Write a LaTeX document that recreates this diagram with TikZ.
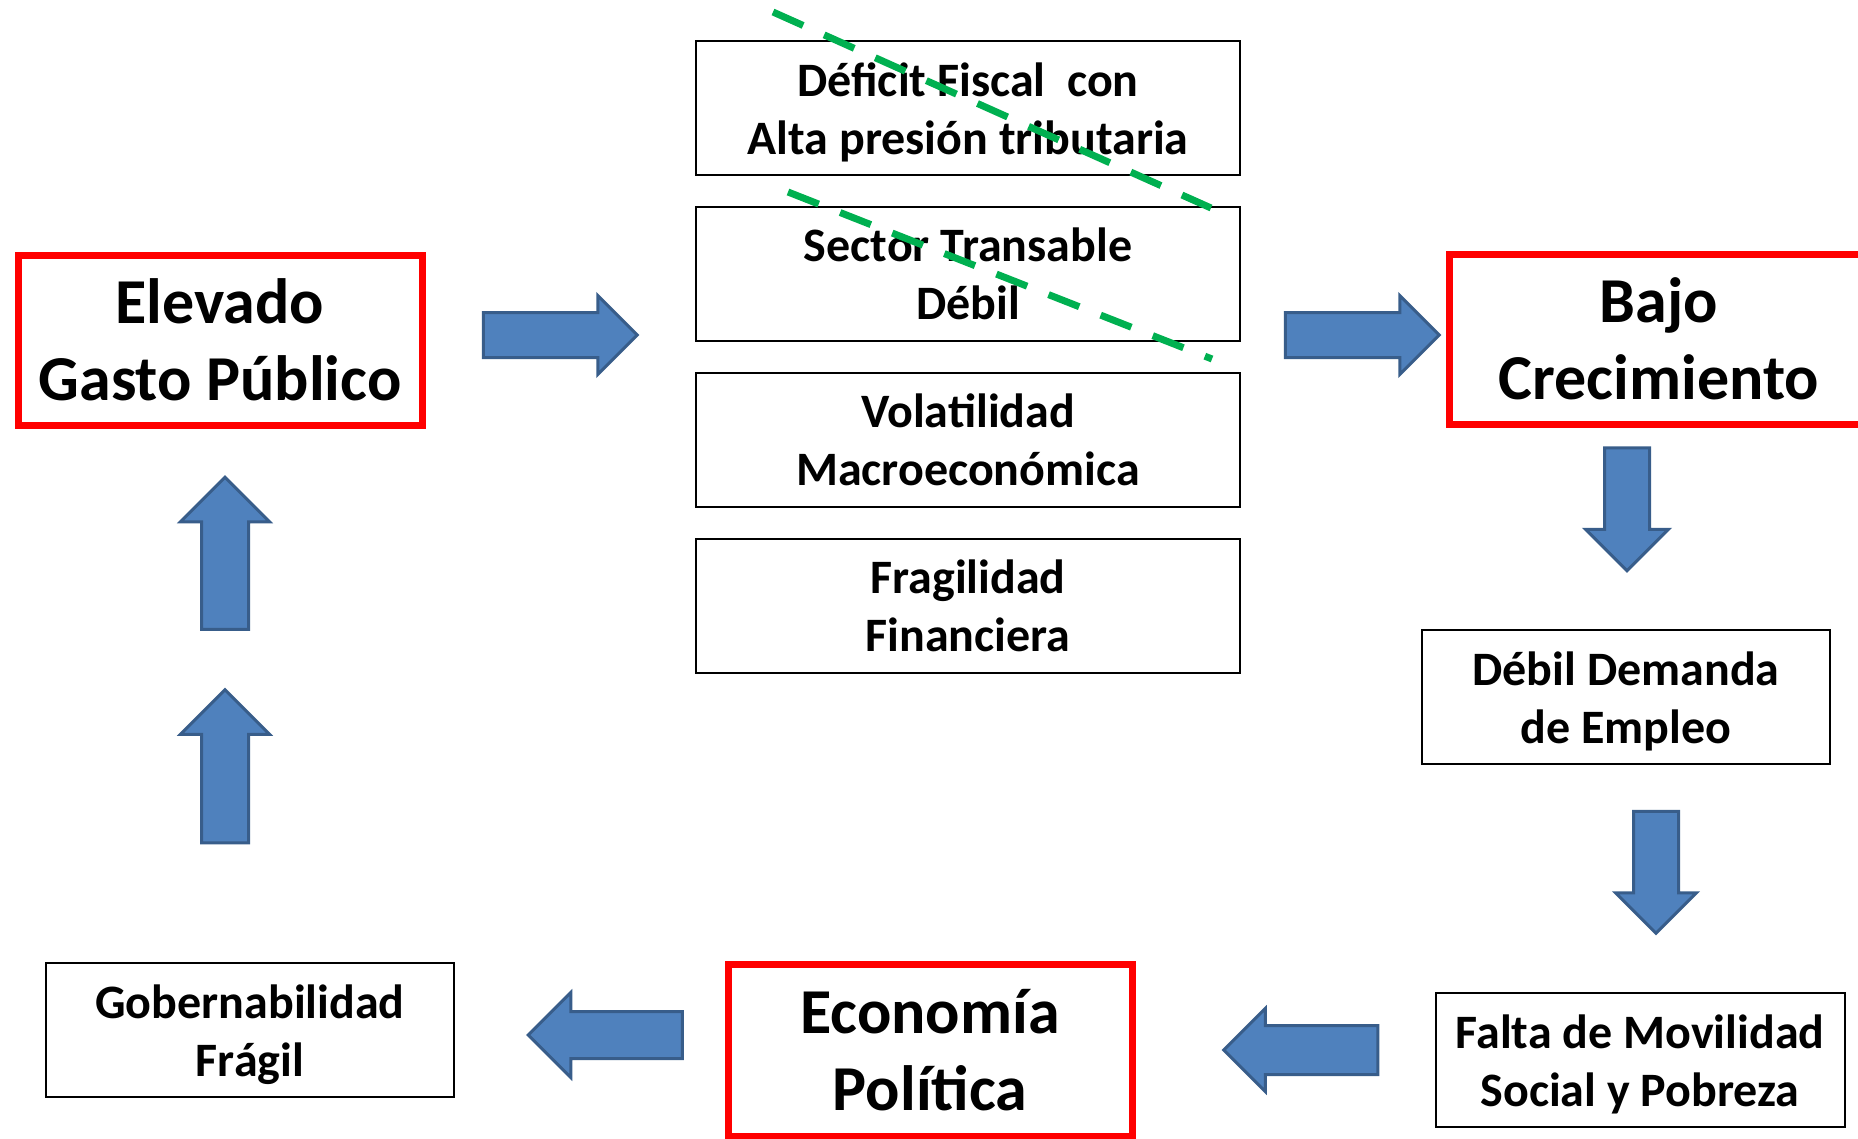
\documentclass[tikz,border=0pt]{standalone}
\usepackage{fontspec}
\setmainfont{Carlito}
\usetikzlibrary{positioning,shapes.arrows}

\definecolor{arrowfill}{HTML}{4F81BD}
\definecolor{arrowline}{HTML}{385D8A}
\definecolor{cutgreen}{HTML}{00B050}

\newcommand\bigtext{\fontsize{64}{77}\selectfont\bfseries}
\newcommand\smalltext{\fontsize{48}{58}\selectfont\bfseries}

\begin{document}
\begin{tikzpicture}[x=1pt,y=-1pt,
		redbox/.style={draw=red,line width=7pt,inner sep=0pt,align=center,font=\bigtext,
			minimum width=404pt,minimum height=170pt},
		plainbox/.style={draw,line width=2pt,inner sep=0pt,align=center,font=\smalltext,
			minimum width=408pt,minimum height=134pt},
		lowtext/.style={text height=104pt,text depth=12pt},
		midbox/.style={plainbox,minimum width=544pt},
		blockarrow/.style={single arrow,fill=arrowfill,draw=arrowline,line width=3pt,
			inner xsep=0pt,inner ysep=21pt,single arrow head extend=17pt,minimum height=154pt},
		cutline/.style={draw=cutgreen,line width=7pt,dash pattern=on 33pt off 23pt}]
	\useasboundingbox (0,0) rectangle (1858,1138);

	% main nodes
	\node[redbox] (gasto)    at (220,340)  {Elevado\\Gasto Público};
	\node[redbox,minimum width=420pt] (bajo) at (1659,339) {Bajo\\Crecimiento};
	\node[redbox,minimum height=172pt] (politica) at (930,1050) {Economía\\Política};

	% middle column
	\node[midbox,lowtext] (fiscal) at (968,108) {Déficit Fiscal\ \ con\\Alta presión tributaria};
	\node[midbox] (transable) [below=30pt of fiscal]    {Sector Transable\\Débil};
	\node[midbox] (volatil)   [below=30pt of transable] {Volatilidad\\Macroeconómica};
	\node[midbox] (fragil)    [below=30pt of volatil]   {Fragilidad\\Financiera};

	% right and bottom boxes
	\node[plainbox,lowtext] (empleo)   at (1626,697)  {Débil Demanda\\de Empleo};
	\node[plainbox,lowtext,minimum width=409pt] (pobreza) at (1640,1060) {Falta de Movilidad\\Social y Pobreza};
	\node[plainbox,lowtext] (gobierno) at (250,1030)  {Gobernabilidad\\Frágil};

	% block arrows
	\node[blockarrow] (toMid)   at (549,335)  {};
	\node[blockarrow] (toBajo)  at (1351,335) {};
	\node[blockarrow,rotate=-90,minimum height=123pt,single arrow head extend=19pt] (toEmpleo)  at (1627,498) {};
	\node[blockarrow,rotate=-90,minimum height=122pt,single arrow head extend=18pt] (toPobreza) at (1656,861) {};
	\node[blockarrow,rotate=180,inner ysep=23pt] (toPolitica) at (1313,1050) {};
	\node[blockarrow,rotate=180,inner ysep=22pt,single arrow head extend=19pt] (toGobierno) at (617,1035) {};
	\node[blockarrow,rotate=90,inner ysep=22pt,single arrow head extend=21pt,minimum height=153pt] (upLow)  at (225,778) {};
	\node[blockarrow,rotate=90,inner ysep=22pt,single arrow head extend=21pt,minimum height=152pt] (upHigh) at (225,565) {};

	% crossed-out items
	\coordinate (cutA) at (773,12);
	\coordinate (cutB) at (1211,208);
	\coordinate (cutC) at (788,192);
	\coordinate (cutD) at (1212,359);
	\draw[cutline] (cutA) -- (cutB);
	\draw[cutline] (cutC) -- (cutD);
\end{tikzpicture}
\end{document}
